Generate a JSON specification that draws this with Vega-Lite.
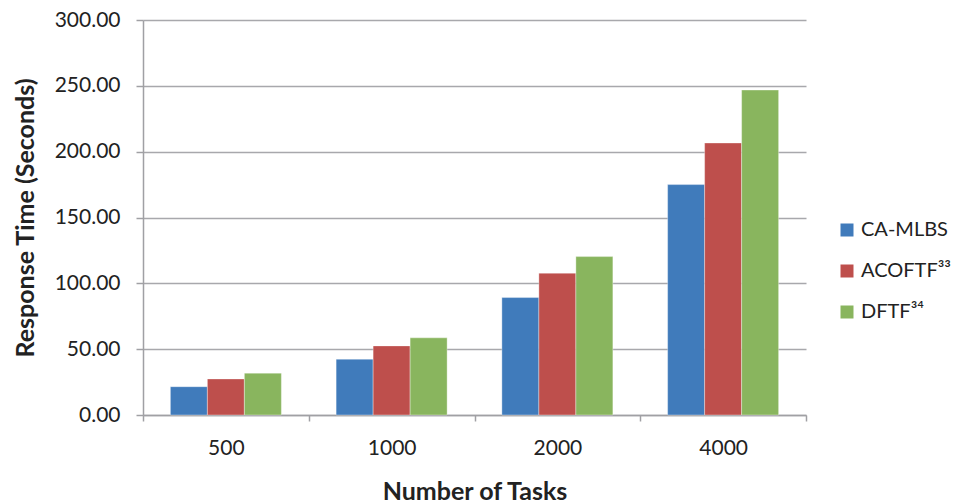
{
  "$schema": "https://vega.github.io/schema/vega-lite/v6.json",
  "width": 663,
  "height": 395,
  "autosize": {"type": "none"},
  "padding": {"left": 143, "top": 20, "right": 148, "bottom": 89},
  "background": "white",
  "data": {
    "values": [
      {"tasks": "500", "method": "CA-MLBS", "time": 21.5},
      {"tasks": "500", "method": "ACOFTF³³", "time": 27.4},
      {"tasks": "500", "method": "DFTF³⁴", "time": 31.8},
      {"tasks": "1000", "method": "CA-MLBS", "time": 42.4},
      {"tasks": "1000", "method": "ACOFTF³³", "time": 52.5},
      {"tasks": "1000", "method": "DFTF³⁴", "time": 58.6},
      {"tasks": "2000", "method": "CA-MLBS", "time": 89.2},
      {"tasks": "2000", "method": "ACOFTF³³", "time": 107.7},
      {"tasks": "2000", "method": "DFTF³⁴", "time": 120.3},
      {"tasks": "4000", "method": "CA-MLBS", "time": 175.0},
      {"tasks": "4000", "method": "ACOFTF³³", "time": 206.6},
      {"tasks": "4000", "method": "DFTF³⁴", "time": 246.8}
    ]
  },
  "config": {
    "view": {"stroke": null},
    "font": "Lato",
    "axis": {
      "labelFont": "Lato",
      "titleFont": "Lato",
      "labelColor": "#222222",
      "titleColor": "#222222",
      "domainColor": "#a0a0a4",
      "tickColor": "#a0a0a4",
      "gridColor": "#a8a8ac",
      "domainWidth": 1.5,
      "tickWidth": 1.5,
      "gridWidth": 1.5
    }
  },
  "mark": {"type": "bar", "stroke": "#ffffff", "strokeOpacity": 0.35, "strokeWidth": 1},
  "encoding": {
    "x": {
      "field": "tasks",
      "type": "nominal",
      "sort": ["500", "1000", "2000", "4000"],
      "scale": {"paddingInner": 0, "paddingOuter": 0},
      "axis": {
        "title": "Number of Tasks",
        "titleFontSize": 25,
        "titleFontWeight": "bold",
        "titleX": 331.5,
        "titleY": 76,
        "titleBaseline": "middle",
        "titleAlign": "center",
        "labelAngle": 0,
        "labelFontSize": 21,
        "labelBaseline": "middle",
        "labelPadding": 27,
        "tickSize": 6,
        "tickBand": "extent",
        "grid": false
      }
    },
    "xOffset": {
      "field": "method",
      "type": "nominal",
      "sort": ["CA-MLBS", "ACOFTF³³", "DFTF³⁴"],
      "scale": {"paddingOuter": 0.74, "paddingInner": 0}
    },
    "y": {
      "field": "time",
      "type": "quantitative",
      "scale": {"domain": [0, 300], "nice": false},
      "axis": {
        "title": "Response Time (Seconds)",
        "titleFontSize": 25,
        "titleFontWeight": "bold",
        "titleX": -118,
        "titleY": 197.5,
        "titleAngle": -90,
        "titleAlign": "center",
        "titleBaseline": "middle",
        "values": [0, 50, 100, 150, 200, 250, 300],
        "format": ".2f",
        "labelFontSize": 21,
        "labelPadding": 16,
        "tickSize": 7,
        "grid": true
      }
    },
    "color": {
      "field": "method",
      "type": "nominal",
      "sort": ["CA-MLBS", "ACOFTF³³", "DFTF³⁴"],
      "scale": {"range": ["#407BBB", "#BE4F4C", "#89B55E"]},
      "legend": {
        "title": null,
        "orient": "none",
        "legendX": 694,
        "legendY": 200,
        "symbolType": "square",
        "symbolSize": 169,
        "symbolStrokeWidth": 0,
        "labelFontSize": 20,
        "labelFont": "Lato",
        "labelColor": "#222222",
        "labelOffset": 4,
        "rowPadding": 21,
        "labelLimit": 200
      }
    }
  }
}
